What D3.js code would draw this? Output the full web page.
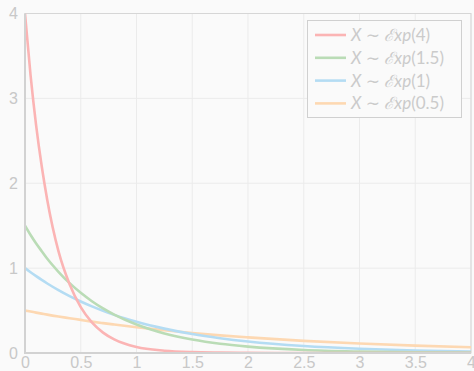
<!DOCTYPE html>
<html>
<head>
<meta charset="utf-8">
<script src="https://cdn.jsdelivr.net/npm/d3@7"></script>
<style>
  body { margin:0; background:#fafafa; }
  svg { display:block; font-family: "Lato", "DejaVu Sans", sans-serif; }
  .tick text { fill:#c8c8c8; font-size:16px; }
  .leg text { fill:#cbcbcb; font-size:17px; }
</style>
</head>
<body>
<svg id="chart" width="474" height="371"></svg>
<script>
var xs      = [0, 0.05, 0.1, 0.15, 0.2, 0.3, 0.4, 0.5, 0.6, 0.7, 0.8, 1, 1.25, 1.5, 1.75, 2, 2.5, 3, 3.5, 4]
var rate4   = [4, 3.27, 2.68, 2.2, 1.8, 1.2, 0.81, 0.54, 0.36, 0.24, 0.16, 0.07, 0.027, 0.01, 0.004, 0.001, 0, 0, 0, 0]
var rate15  = [1.5, 1.39, 1.29, 1.2, 1.11, 0.957, 0.823, 0.709, 0.61, 0.525, 0.452, 0.335, 0.23, 0.158, 0.108, 0.075, 0.035, 0.017, 0.008, 0.004]
var rate1   = [1, 0.951, 0.905, 0.861, 0.819, 0.741, 0.67, 0.607, 0.549, 0.497, 0.449, 0.368, 0.287, 0.223, 0.174, 0.135, 0.082, 0.05, 0.03, 0.018]
var rate05  = [0.5, 0.488, 0.476, 0.464, 0.452, 0.43, 0.41, 0.39, 0.37, 0.352, 0.335, 0.303, 0.268, 0.236, 0.208, 0.184, 0.143, 0.112, 0.087, 0.068]
var labels  = ["4", "1.5", "1", "0.5"]
var colors  = ["#fbb4b4", "#badcb6", "#b4dcf3", "#fdd8b2"]
var xTicks  = [0, 0.5, 1, 1.5, 2, 2.5, 3, 3.5, 4]
var yTicks  = [0, 1, 2, 3, 4]

var series = [rate4, rate15, rate1, rate05]

var svg = d3.select("#chart")
var mLeft = 25, mRight = 471, mTop = 13.5, mBottom = 353

var x = d3.scaleLinear().domain([0, 4]).range([mLeft, mRight])
var y = d3.scaleLinear().domain([0, 4]).range([mBottom, mTop])

svg.append("rect").attr("width", 474).attr("height", 371).attr("fill", "#fafafa")

// Grid
var grid = svg.append("g")
grid.selectAll("line.v").data(xTicks).enter().append("line")
  .attr("x1", d => x(d)).attr("x2", d => x(d))
  .attr("y1", mTop).attr("y2", mBottom)
  .attr("stroke", "#ebebeb").attr("stroke-width", 1)
grid.selectAll("line.h").data(yTicks).enter().append("line")
  .attr("x1", mLeft).attr("x2", mRight)
  .attr("y1", d => y(d)).attr("y2", d => y(d))
  .attr("stroke", "#ebebeb").attr("stroke-width", 1)

// Frame
svg.append("rect")
  .attr("x", mLeft).attr("y", mTop)
  .attr("width", mRight - mLeft).attr("height", mBottom - mTop)
  .attr("fill", "none").attr("stroke", "#d6d6d6").attr("stroke-width", 1)

// Axes (labels only)
var xAxis = svg.append("g").attr("transform", `translate(0,${mBottom})`)
  .call(d3.axisBottom(x).tickValues(xTicks).tickSize(0).tickPadding(3).tickFormat(d3.format("")))
xAxis.select(".domain").remove()
xAxis.selectAll(".tick text").attr("dy", "0.78em")

var yAxis = svg.append("g").attr("transform", `translate(${mLeft},0)`)
  .call(d3.axisLeft(y).tickValues(yTicks).tickSize(0).tickPadding(7).tickFormat(d3.format("d")))
yAxis.select(".domain").remove()

// Curves
svg.append("clipPath").attr("id", "clip").append("rect")
  .attr("x", mLeft).attr("y", mTop).attr("width", mRight - mLeft).attr("height", mBottom - mTop)

var line = d3.line()
  .x((d, i) => x(xs[i]))
  .y(d => y(d))
  .curve(d3.curveMonotoneX)

var curves = svg.append("g").attr("clip-path", "url(#clip)")
series.slice().reverse().forEach((s, k) => {
  var i = series.length - 1 - k
  curves.append("path")
    .attr("d", line(s))
    .attr("fill", "none")
    .attr("stroke", colors[i])
    .attr("stroke-width", 2.6)
})

// Thicker left and bottom axis lines
svg.append("line").attr("x1", mLeft).attr("x2", mLeft).attr("y1", mTop).attr("y2", mBottom + 1)
  .attr("stroke", "#d2d2d2").attr("stroke-width", 2)
svg.append("line").attr("x1", mLeft - 1).attr("x2", mRight).attr("y1", mBottom).attr("y2", mBottom)
  .attr("stroke", "#d2d2d2").attr("stroke-width", 2)

// Legend
var leg = svg.append("g").attr("class", "leg")
leg.append("rect")
  .attr("x", 307.5).attr("y", 20.5).attr("width", 154).attr("height", 97)
  .attr("fill", "#fafafa").attr("stroke", "#d0d0d0").attr("stroke-width", 1)

labels.forEach((lab, i) => {
  var ly = 35 + i * 22.8
  leg.append("line")
    .attr("x1", 315).attr("x2", 346).attr("y1", ly).attr("y2", ly)
    .attr("stroke", colors[i]).attr("stroke-width", 2.6)
  var t = leg.append("text").attr("x", 351).attr("y", ly + 6)
  t.append("tspan").attr("font-style", "italic").text("X")
  t.append("tspan").text(" \u223C ")
  t.append("tspan").attr("font-family", "DejaVu Serif").attr("font-style", "italic").text("\u2130")
  t.append("tspan").attr("font-style", "italic").text("xp")
  t.append("tspan").text("(" + lab + ")")
})
</script>
</body>
</html>
